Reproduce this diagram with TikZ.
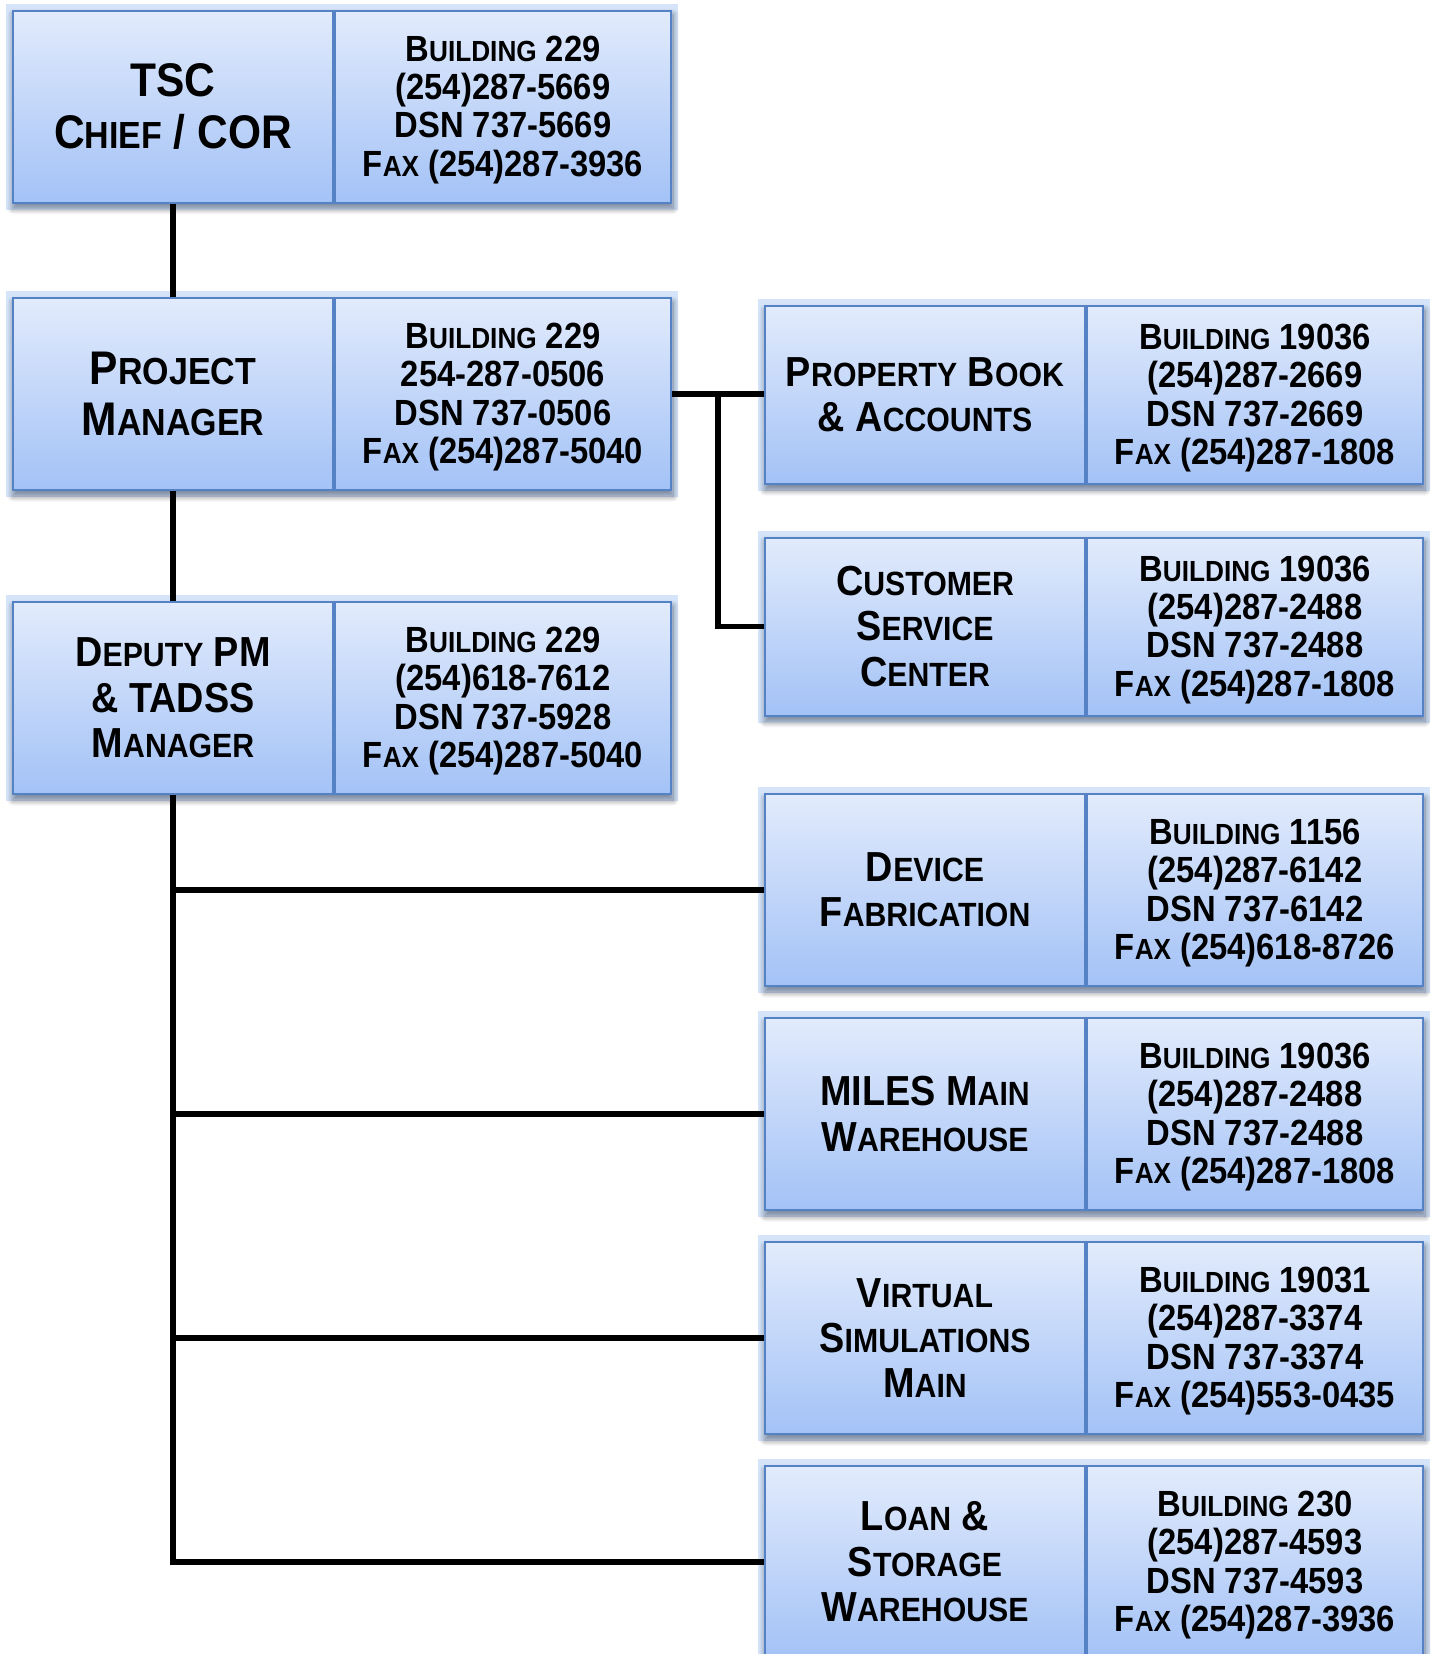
\documentclass[tikz,border=0pt]{standalone}
\usepackage{fontspec}
\setmainfont{Liberation Sans}[FakeStretch=0.9]
\usepackage{graphicx}
\usetikzlibrary{positioning, calc, fit, backgrounds, shadows.blur}

\definecolor{boxtop}{RGB}{226,235,252}
\definecolor{boxbot}{RGB}{163,194,246}
\definecolor{boxline}{RGB}{84,130,196}
\definecolor{glowblue}{RGB}{120,165,235}

% small capitals, faked
\newcommand{\smc}[1]{\scalebox{0.8}{#1}}

\begin{document}
\begin{tikzpicture}[x=0.5pt, y=-0.5pt,
    unit/.style={rectangle, draw=boxline, line width=1pt, top color=boxtop, bottom color=boxbot,
                 minimum width=160pt, minimum height=96pt, inner sep=0pt, align=center,
                 font=\fontsize{21}{22.7}\selectfont\bfseries},
    bigunit/.style={unit, font=\fontsize{23.6}{25.8}\selectfont\bfseries},
    info/.style={unit, minimum width=168pt, font=\fontsize{18.2}{19.15}\selectfont\bfseries,
                 text height=73.5pt, text depth=4pt},
    short/.style={minimum height=89pt},
    glow/.style={inner sep=0pt, draw=glowblue, draw opacity=0.3, line width=6pt,
                 blur shadow={shadow xshift=0.5pt, shadow yshift=-2.5pt, shadow opacity=55,
                              shadow blur steps=10, shadow blur radius=3pt}},
    conn/.style={line width=2.6pt}
]
    \useasboundingbox (0,0) rectangle (1430,1654);

    % left column
    \node[bigunit] (tsc) at (173,106.5) {TSC\\C\smc{HIEF} / COR};
    \node[info, right=0pt of tsc] (tscinfo) {B\smc{UILDING} 229\\(254)287-5669\\DSN 737-5669\\F\smc{AX} (254)287-3936};
    \node[bigunit] (pm) at (173,394) {P\smc{ROJECT}\\M\smc{ANAGER}};
    \node[info, right=0pt of pm] (pminfo) {B\smc{UILDING} 229\\254-287-0506\\DSN 737-0506\\F\smc{AX} (254)287-5040};
    \node[unit] (dpm) at (173,698) {D\smc{EPUTY} PM\\\& TADSS\\M\smc{ANAGER}};
    \node[info, right=0pt of dpm] (dpminfo) {B\smc{UILDING} 229\\(254)618-7612\\DSN 737-5928\\F\smc{AX} (254)287-5040};

    % right column
    \node[unit, short] (pba) at (925,395) {P\smc{ROPERTY} B\smc{OOK}\\\& A\smc{CCOUNTS}};
    \node[info, short, right=0pt of pba] (pbainfo) {B\smc{UILDING} 19036\\(254)287-2669\\DSN 737-2669\\F\smc{AX} (254)287-1808};
    \node[unit, short] (csc) at (925,626.5) {C\smc{USTOMER}\\S\smc{ERVICE}\\C\smc{ENTER}};
    \node[info, short, right=0pt of csc] (cscinfo) {B\smc{UILDING} 19036\\(254)287-2488\\DSN 737-2488\\F\smc{AX} (254)287-1808};
    \node[unit] (dev) at (925,890) {D\smc{EVICE}\\F\smc{ABRICATION}};
    \node[info, right=0pt of dev] (devinfo) {B\smc{UILDING} 1156\\(254)287-6142\\DSN 737-6142\\F\smc{AX} (254)618-8726};
    \node[unit] (miles) at (925,1114) {MILES M\smc{AIN}\\W\smc{AREHOUSE}};
    \node[info, right=0pt of miles] (milesinfo) {B\smc{UILDING} 19036\\(254)287-2488\\DSN 737-2488\\F\smc{AX} (254)287-1808};
    \node[unit] (vsim) at (925,1338) {V\smc{IRTUAL}\\S\smc{IMULATIONS}\\M\smc{AIN}};
    \node[info, right=0pt of vsim] (vsiminfo) {B\smc{UILDING} 19031\\(254)287-3374\\DSN 737-3374\\F\smc{AX} (254)553-0435};
    \node[unit] (lsw) at (925,1562) {L\smc{OAN} \&\\S\smc{TORAGE}\\W\smc{AREHOUSE}};
    \node[info, right=0pt of lsw] (lswinfo) {B\smc{UILDING} 230\\(254)287-4593\\DSN 737-4593\\F\smc{AX} (254)287-3936};

    % glow and shadow behind each pair
    \begin{scope}[on background layer]
        \foreach \u in {tsc,pm,dpm,pba,csc,dev,miles,vsim,lsw}
            \node[glow, fit=(\u)(\u info)] {};
    \end{scope}

    % connectors
    \draw[conn] (tsc.south) -- (pm.north);
    \draw[conn] (pm.south) -- (dpm.north);
    \draw[conn] (pminfo.east) -- (pminfo.east -| pba.west);
    \coordinate (pmjoin) at ($(pminfo.east)!0.5!(pminfo.east -| pba.west)$);
    \draw[conn] (pmjoin) |- (csc.west);
    \foreach \sub in {dev,miles,vsim,lsw}
        \draw[conn] (dpm.south) |- (\sub.west);
\end{tikzpicture}
\end{document}
